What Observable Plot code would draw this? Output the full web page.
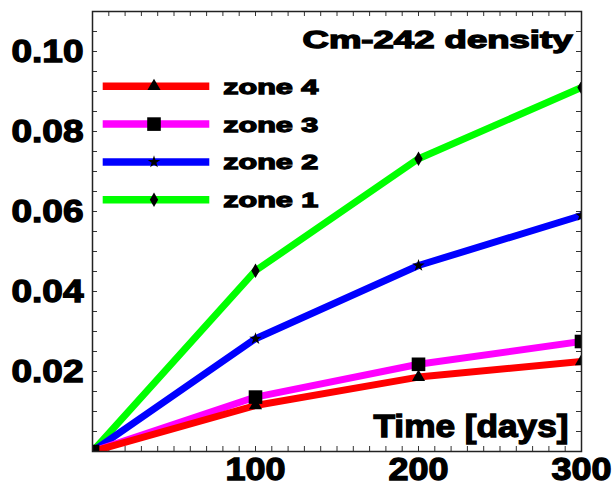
<!DOCTYPE html>
<html>
<head>
<meta charset="utf-8">
<script src="https://cdn.jsdelivr.net/npm/d3@7"></script>
<script src="https://cdn.jsdelivr.net/npm/@observablehq/plot@0.6"></script>
<style>
  html, body { margin: 0; padding: 0; background: #fff; }
  svg text { stroke: #000; stroke-width: 1.3px; paint-order: stroke; }
</style>
</head>
<body>
<script>
// ---- data ----
const days = [0, 100, 200, 300];
const zone1 = [0, 0.0452, 0.0732, 0.0910];
const zone2 = [0, 0.0282, 0.0465, 0.0590];
const zone3 = [0, 0.0136, 0.0218, 0.0275];
const zone4 = [0, 0.0115, 0.0186, 0.0225];

const zoneNames = ["zone 1", "zone 2", "zone 3", "zone 4"];
const zoneColors = ["#00ff00", "#0000ff", "#ff00ff", "#ff0000"];
const zoneSymbols = ["diamond", "star", "square", "triangle"];
const zoneValues = [zone1, zone2, zone3, zone4];

const xTickLabels = [100, 200, 300];
const yTickLabels = [0.02, 0.04, 0.06, 0.08, 0.10];
const xMinorTicks = d3.range(10, 300, 10);
const yMinorTicks = d3.range(0.005, 0.11, 0.005);

const titleText = "Cm-242 density";
const xAxisText = "Time [days]";

// ---- layout ----
const W = 613, H = 485;
const mL = 92, mR = 32, mT = 11, mB = 34;
const plotW = W - mL - mR, plotH = H - mT - mB;
const font = "Liberation Sans, Arial, sans-serif";

const symbolSize = {diamond: 60, star: 48, square: 185, triangle: 75};
const d3Symbols = {diamond: d3.symbolDiamond, star: d3.symbolStar, square: d3.symbolSquare, triangle: d3.symbolTriangle};

const series = zoneNames.map((name, k) => ({
  name, color: zoneColors[k], symbol: zoneSymbols[k],
  rows: days.map((d, i) => ({day: d, value: zoneValues[k][i]}))
}));

function legendMark(index, scales, values, dims) {
  const g = d3.create("svg:g");
  const x0 = dims.marginLeft, y0 = dims.marginTop;
  const order = series.slice().reverse();
  order.forEach((s, i) => {
    const y = y0 + 75.3 + i * 37.8;
    g.append("line")
      .attr("x1", x0 + 10.7).attr("x2", x0 + 117.3)
      .attr("y1", y).attr("y2", y)
      .attr("stroke", s.color).attr("stroke-width", 7.5);
    g.append("path")
      .attr("transform", `translate(${x0 + 62},${y})`)
      .attr("d", d3.symbol(d3Symbols[s.symbol], symbolSize[s.symbol])())
      .attr("fill", "black");
    g.append("text")
      .attr("x", x0 + 131.3).attr("y", y + 7.5)
      .attr("text-anchor", "start")
      .attr("font-size", 21).attr("font-weight", "bold")
      .attr("fill", "black")
      .text(s.name);
  });
  return g.node();
}

const marks = [];
// inward minor ticks on all four sides
marks.push(Plot.tickX(xMinorTicks, {x: d => d, insetTop: plotH - 5, stroke: "#333"}));
marks.push(Plot.tickX(xMinorTicks, {x: d => d, insetBottom: plotH - 5, stroke: "#333"}));
marks.push(Plot.tickY(yMinorTicks, {y: d => d, insetRight: plotW - 5, stroke: "#333"}));
marks.push(Plot.tickY(yMinorTicks, {y: d => d, insetLeft: plotW - 5, stroke: "#333"}));

for (const s of series) {
  marks.push(Plot.line(s.rows, {x: "day", y: "value", stroke: s.color, strokeWidth: 7, clip: "frame"}));
}
for (const s of series) {
  marks.push(Plot.dot(s.rows, {x: "day", y: "value", symbol: () => s.symbol, r: Math.sqrt(symbolSize[s.symbol] / Math.PI), fill: "black", stroke: null, clip: "frame"}));
}

marks.push(Plot.frame({stroke: "#222", strokeWidth: 1.5}));

marks.push(Plot.axisX({ticks: xTickLabels, tickSize: 0, tickPadding: 6, fontSize: 32, tickFormat: d => String(d), label: null}));
marks.push(Plot.axisY({ticks: yTickLabels, tickSize: 0, tickPadding: 9, fontSize: 32, tickFormat: d3.format(".2f"), label: null}));

marks.push(Plot.text([titleText], {frameAnchor: "top-right", text: d => d, dx: -9, dy: 19, textAnchor: "end", lineAnchor: "top", fontSize: 24, fontWeight: "bold", fill: "black"}));
marks.push(Plot.text([xAxisText], {frameAnchor: "bottom-right", text: d => d, dx: -13, dy: -37.7, textAnchor: "end", lineAnchor: "top", fontSize: 32, fontWeight: "bold", fill: "black"}));

marks.push(legendMark);

const chart = Plot.plot({
  width: W, height: H,
  marginLeft: mL, marginRight: mR, marginTop: mT, marginBottom: mB,
  x: {domain: [0, 300], label: null},
  y: {domain: [0, 0.11], label: null},
  style: {fontFamily: font, fontWeight: "bold", color: "black", background: "white", overflow: "visible"},
  marks
});
document.body.append(chart);

// stretch the heavy lettering to the widths seen in the reference
const widths = {
  "0.02": 72, "0.04": 72, "0.06": 72, "0.08": 72, "0.10": 72,
  "100": 60, "200": 60, "300": 60,
  [titleText]: 270, [xAxisText]: 195,
  "zone 1": 95, "zone 2": 95, "zone 3": 95, "zone 4": 95
};
chart.querySelectorAll("text").forEach(t => {
  const w = widths[t.textContent.trim()];
  if (w) { t.setAttribute("textLength", w); t.setAttribute("lengthAdjust", "spacingAndGlyphs"); }
});
</script>
</body>
</html>
